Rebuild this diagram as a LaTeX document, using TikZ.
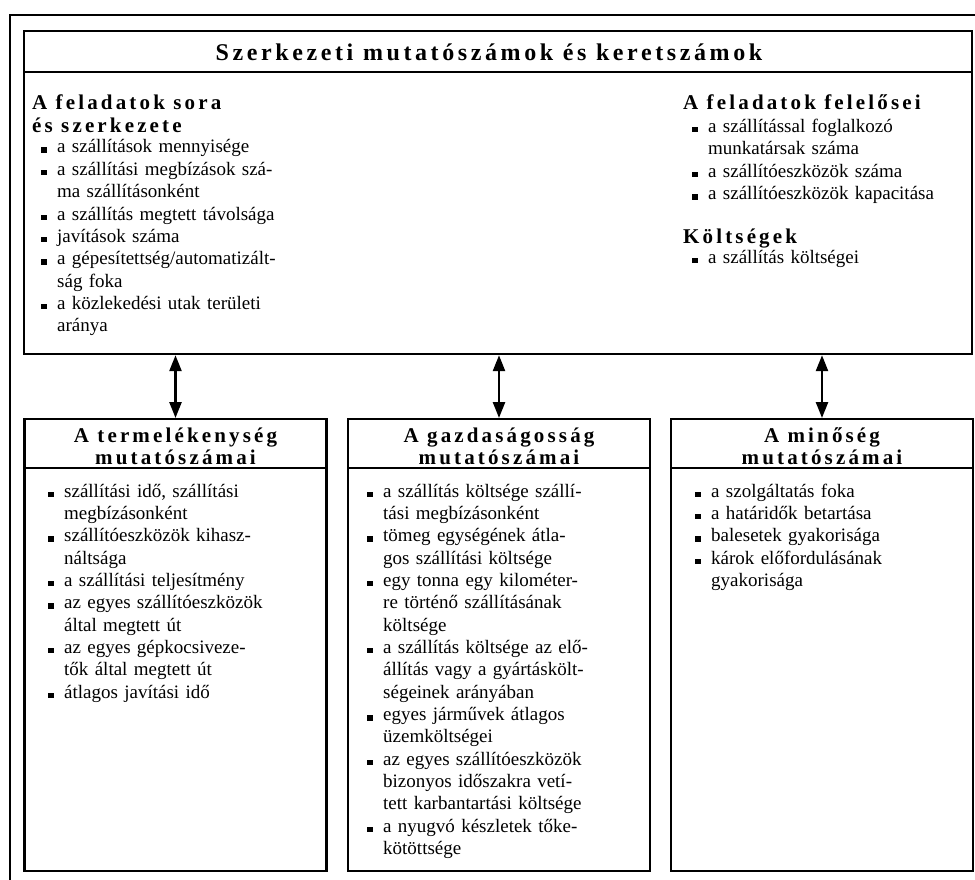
\documentclass[tikz,border=0pt]{standalone}
\usepackage{fontspec}
\setmainfont{Liberation Serif}
\newfontfamily\fejfont[LetterSpace=15]{Liberation Serif}
\usetikzlibrary{arrows.meta}
\tikzset{
	doboz/.style={draw,line width=2.2pt,minimum width=302pt,minimum height=452pt,anchor=north},
	fejlec/.style={draw,line width=2.2pt,minimum width=302pt,minimum height=49pt,anchor=north},
	fejszoveg/.style={font=\fejfont\bfseries\fontsize{21}{22}\selectfont,align=center,inner sep=0pt},
	alcim/.style={font=\fejfont\bfseries\fontsize{21}{23}\selectfont,align=left,inner sep=0pt,anchor=base west},
	lista/.style={font=\fontsize{19}{22.35}\selectfont,text width=290pt,inner sep=0pt,anchor=base west},
	nyil/.style={{Triangle[length=16pt,width=12pt]}-{Triangle[length=16pt,width=12pt]},line width=2.5pt}
}
\newcommand{\tetel}[1]{\hangindent=16pt\hangafter=1\noindent\makebox[16pt][l]{\rule{5.5pt}{5.5pt}}#1\par}
\newcommand{\mutatodoboz}[3]{\node[doboz] at (#1) (#2) {};
	\node[fejlec] at (#2.north) (#2 fej) {};
	\node[fejszoveg] at ([yshift=-3pt]#2 fej.center) (#2 cim) {#3}}

\begin{document}
\begin{tikzpicture}[x=1pt,y=-1pt]
	\useasboundingbox (0,0) rectangle (975,880);
	\draw[line width=2pt] (10,880) -- (10,15) -- (975,15);

	% felso keret
	\node[doboz,minimum width=948pt,minimum height=323pt] at (498,30) (keret) {};
	\node[fejlec,minimum width=948pt,minimum height=41pt] at (keret.north) (keret fej) {};
	\node[font=\fejfont\bfseries\fontsize{24}{28}\selectfont,inner sep=0pt,anchor=base] at (489,61) (foCim) {Szerkezeti mutatószámok és keretszámok};

	\node[alcim] at (32,133) (sorrend) {A feladatok sora\\és szerkezete};
	\node[lista] at (41,153) (sorrendLista) {%
		\tetel{a szállítások mennyisége}
		\tetel{a szállítási megbízások szá-\newline ma szállításonként}
		\tetel{a szállítás megtett távolsága}
		\tetel{javítások száma}
		\tetel{a gépesítettség/automatizált-\newline ság foka}
		\tetel{a közlekedési utak területi\newline aránya}};

	\node[alcim] at (683,110) (felelos) {A feladatok felelősei};
	\node[lista] at (692,132.5) (felelosLista) {%
		\tetel{a szállítással foglalkozó\newline munkatársak száma}
		\tetel{a szállítóeszközök száma}
		\tetel{a szállítóeszközök kapacitása}};

	\node[alcim] at (683,243) (koltseg) {Költségek};
	\node[lista] at (692,263) (koltsegLista) {%
		\tetel{a szállítás költségei}};

	% also dobozok
	\mutatodoboz{175.5,418}{termeles}{A termelékenység\\mutatószámai};
	\mutatodoboz{499,418}{gazdasag}{A gazdaságosság\\mutatószámai};
	\mutatodoboz{822,418}{minoseg}{A minőség\\mutatószámai};

	\node[lista] at (48,497) (termelesLista) {%
		\tetel{szállítási idő, szállítási\newline megbízásonként}
		\tetel{szállítóeszközök kihasz-\newline náltsága}
		\tetel{a szállítási teljesítmény}
		\tetel{az egyes szállítóeszközök\newline által megtett út}
		\tetel{az egyes gépkocsiveze-\newline tők által megtett út}
		\tetel{átlagos javítási idő}};

	\node[lista] at (367,497) (gazdasagLista) {%
		\tetel{a szállítás költsége szállí-\newline tási megbízásonként}
		\tetel{tömeg egységének átla-\newline gos szállítási költsége}
		\tetel{egy tonna egy kilométer-\newline re történő szállításának\newline költsége}
		\tetel{a szállítás költsége az elő-\newline állítás vagy a gyártáskölt-\newline ségeinek arányában}
		\tetel{egyes járművek átlagos\newline üzemköltségei}
		\tetel{az egyes szállítóeszközök\newline bizonyos időszakra vetí-\newline tett karbantartási költsége}
		\tetel{a nyugvó készletek tőke-\newline kötöttsége}};

	\node[lista] at (695,497) (minosegLista) {%
		\tetel{a szolgáltatás foka}
		\tetel{a határidők betartása}
		\tetel{balesetek gyakorisága}
		\tetel{károk előfordulásának\newline gyakorisága}};

	\draw[nyil] (keret.south -| termeles.north) -- (termeles.north);
	\draw[nyil] (keret.south -| gazdasag.north) -- (gazdasag.north);
	\draw[nyil] (keret.south -| minoseg.north) -- (minoseg.north);
\end{tikzpicture}
\end{document}
